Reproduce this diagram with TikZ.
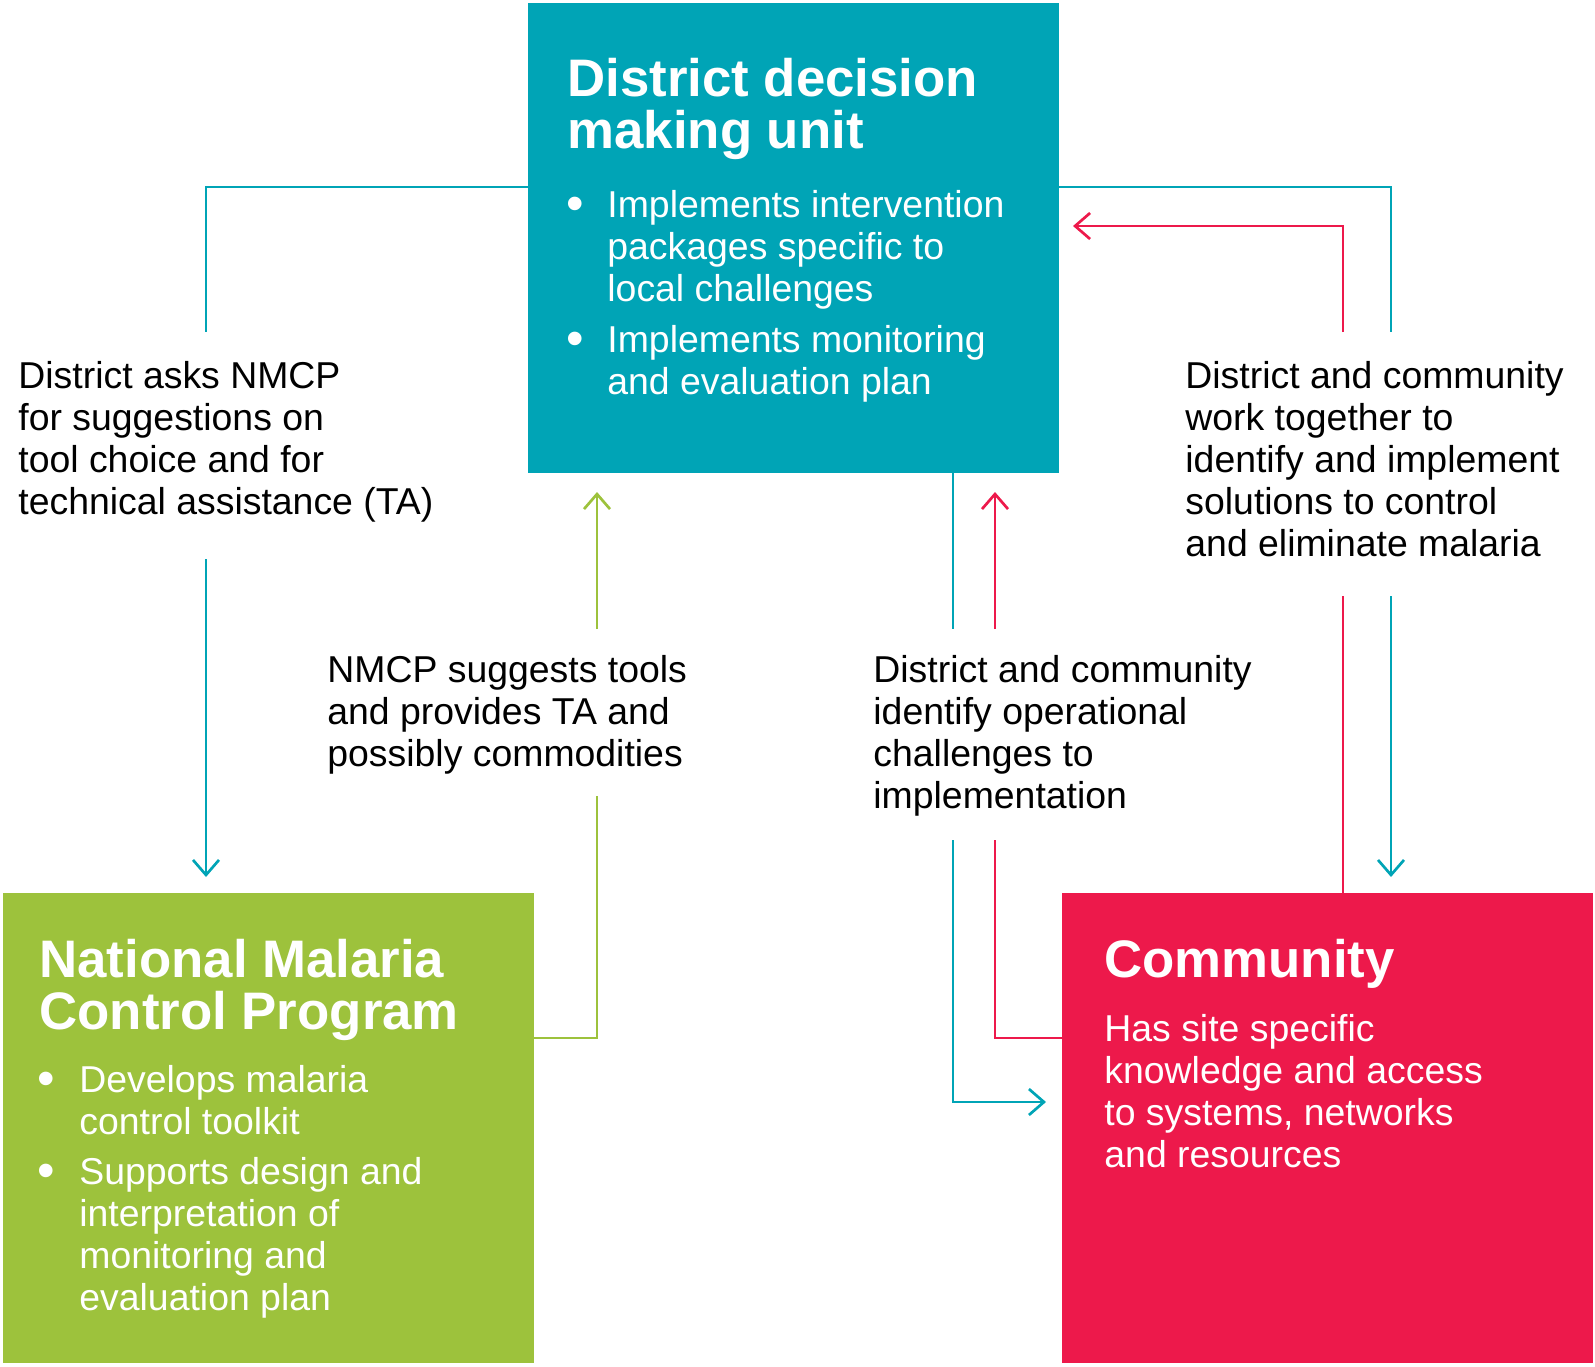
\documentclass[tikz,border=0pt]{standalone}
\usepackage{fontspec}
\setmainfont{Liberation Sans}
\usetikzlibrary{arrows.meta}
\definecolor{dmuteal}{RGB}{0,164,182}
\definecolor{nmcpgreen}{RGB}{157,194,60}
\definecolor{commred}{RGB}{237,25,75}

\begin{document}
\begin{tikzpicture}[x=0.5pt, y=-0.5pt,
  box/.style={inner sep=0, outer sep=0, anchor=north west, minimum width=265.5pt, minimum height=235pt},
  ttl/.style={anchor=base west, inner sep=0, align=left, text=white, font=\fontsize{26.4}{26}\selectfont\bfseries},
  txt/.style={anchor=base west, inner sep=0, align=left, font=\fontsize{18.7}{21.1}\selectfont},
  dot/.style={anchor=base, inner sep=0, text=white, font=\fontsize{25}{25}\selectfont},
  link/.style={line width=1.35pt},
  tip/.style={-{Straight Barb[length=7.5pt,width=13pt]}}]
  \useasboundingbox (0,0) rectangle (1595,1366);

  % Three boxes
  \node[box, fill=dmuteal] (dmu) at (528,3) {};
  \node[box, fill=nmcpgreen] (nmcp) at (3,893) {};
  \node[box, fill=commred] (comm) at (1062,893) {};

  % District decision making unit (text nodes placed at their last baseline)
  \node[ttl] (dmut) at (567,148) {District decision\\making unit};
  \node[dot] (dmub1) at (575,220) {•};
  \node[txt, text=white] (dmui1) at (607,301.4) {Implements intervention\\packages specific to\\local challenges};
  \node[dot] (dmub2) at (575,355) {•};
  \node[txt, text=white] (dmui2) at (607,394.2) {Implements monitoring\\and evaluation plan};

  % National Malaria Control Program
  \node[ttl] (nmcpt) at (39,1029) {National Malaria\\Control Program};
  \node[dot] (nmcpb1) at (46,1095) {•};
  \node[txt, text=white] (nmcpi1) at (79,1134.2) {Develops malaria\\control toolkit};
  \node[dot] (nmcpb2) at (46,1187) {•};
  \node[txt, text=white] (nmcpi2) at (79,1310.6) {Supports design and\\interpretation of\\monitoring and\\evaluation plan};

  % Community
  \node[ttl] (commt) at (1104,977) {Community};
  \node[txt, text=white] (commi) at (1104,1167.6) {Has site specific\\knowledge and access\\to systems, networks\\and resources};

  % Labels between the boxes
  \node[txt] (ask) at (18,514.6) {District asks NMCP\\for suggestions on\\tool choice and for\\technical assistance (TA)};
  \node[txt] (sug) at (327,766.4) {NMCP suggests tools\\and provides TA and\\possibly commodities};
  \node[txt] (ops) at (873,808.6) {District and community\\identify operational\\challenges to\\implementation};
  \node[txt] (tog) at (1185,556.8) {District and community\\work together to\\identify and implement\\solutions to control\\and eliminate malaria};

  % Free ends of the connectors
  \coordinate (askA) at (206,332);
  \coordinate (askB) at (206,559);
  \coordinate (askC) at (206,877);
  \coordinate (sugA) at (597,796);
  \coordinate (sugB) at (597,629);
  \coordinate (sugC) at (597,492);
  \coordinate (opsA) at (953,629);
  \coordinate (opsB) at (953,840);
  \coordinate (opsC) at (1046,1102);
  \coordinate (chA) at (995,840);
  \coordinate (chB) at (995,629);
  \coordinate (chC) at (995,492);
  \coordinate (togA) at (1391,332);
  \coordinate (togB) at (1391,596);
  \coordinate (togC) at (1391,877);
  \coordinate (solA) at (1343,596);
  \coordinate (solB) at (1343,332);
  \coordinate (solC) at (1073,226);

  % District -> NMCP
  \draw[link, dmuteal] (dmu.north west) ++(0,184) -| (askA);
  \draw[link, dmuteal, tip] (askB) -- (askC);
  % NMCP -> District
  \draw[link, nmcpgreen] (nmcp.north east) ++(0,145) -| (sugA);
  \draw[link, nmcpgreen, tip] (sugB) -- (sugC);
  % District -> Community
  \draw[link, dmuteal] (dmu.south west) ++(425,0) -- (opsA);
  \draw[link, dmuteal, tip] (opsB) |- (opsC);
  % Community -> District
  \draw[link, commred] (comm.north west) ++(0,145) -| (chA);
  \draw[link, commred, tip] (chB) -- (chC);
  % District -> Community, right side
  \draw[link, dmuteal] (dmu.north east) ++(0,184) -| (togA);
  \draw[link, dmuteal, tip] (togB) -- (togC);
  % Community -> District, right side
  \draw[link, commred] (comm.north west) ++(281,0) -- (solA);
  \draw[link, commred, tip] (solB) |- (solC);
\end{tikzpicture}
\end{document}
